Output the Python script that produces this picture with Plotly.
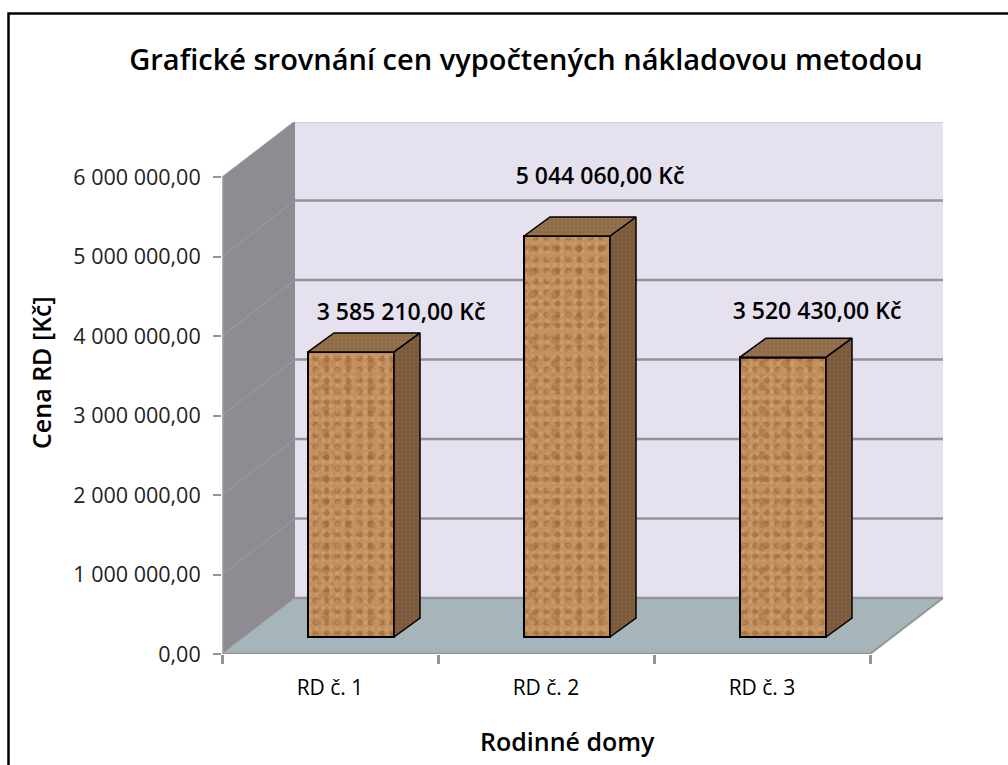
import plotly.graph_objects as go

categories = ["RD č. 1", "RD č. 2", "RD č. 3"]
prices = [3585210, 5044060, 3520430]
price_labels = ["3 585 210,00 Kč", "5 044 060,00 Kč", "3 520 430,00 Kč"]
y_ticks = [0, 1000000, 2000000, 3000000, 4000000, 5000000, 6000000]
y_tick_labels = ["0,00", "1 000 000,00", "2 000 000,00", "3 000 000,00",
                 "4 000 000,00", "5 000 000,00", "6 000 000,00"]

title_text = "Grafické srovnání cen vypočtených nákladovou metodou"
x_title = "Rodinné domy"
y_title = "Cena RD [Kč]"

W, H = 1008, 765
L, R, T, B = 222, 945, 122, 654      # plot box (pixels)
CAT = 216.0                          # px per category
VAL = 79.5 / 1e6                     # px per unit of price
ux = 1 / CAT
uy = 1 / VAL
x_range = [0.5, 0.5 + (R - L) * ux]
y_range = [0, (B - T) * uy]

wall_dx, wall_dy = 73 * ux, 56 * uy   # depth of the chart box
bar_shift, bar_lift = 21 * ux, 17 * uy  # front face placement on the floor
bar_w = 86 * ux
side_dx, side_dy = 26 * ux, 19 * uy   # depth of the bars
label_dx = [50, 33, 34]
label_dy = [38, 58, 44]

x0, x1 = 0.5, 3.5
FONT = "Open Sans"
GRID = "#949494"
shapes = []


def poly(pts):
    return "M " + " L ".join(f"{a},{b}" for a, b in pts) + " Z"


top = y_ticks[-1]
# back wall
shapes.append(dict(type="path", xref="x", yref="y", layer="below", line_width=0, fillcolor="#E6E1EE",
                   path=poly([(x0 + wall_dx, wall_dy), (x1 + wall_dx, wall_dy),
                              (x1 + wall_dx, top + wall_dy), (x0 + wall_dx, top + wall_dy)])))
# side wall
shapes.append(dict(type="path", xref="x", yref="y", layer="below", line_width=0, fillcolor="#8E8C92",
                   path=poly([(x0, 0), (x0 + wall_dx, wall_dy), (x0 + wall_dx, top + wall_dy), (x0, top)])))
# floor
shapes.append(dict(type="path", xref="x", yref="y", layer="below", fillcolor="#A6B5B9",
                   line=dict(color="#A6B5B9", width=0),
                   path=poly([(x0, 0), (x0 + wall_dx, wall_dy), (x1 + wall_dx, wall_dy), (x1, 0)])))
# grid lines on the back wall and on the side wall
for v in y_ticks:
    shapes.append(dict(type="line", xref="x", yref="y", layer="below",
                       x0=x0 + wall_dx, x1=x1 + wall_dx, y0=v + wall_dy, y1=v + wall_dy,
                       line=dict(color=GRID, width=2.5)))
    shapes.append(dict(type="line", xref="x", yref="y", layer="below",
                       x0=x0, x1=x0 + wall_dx, y0=v, y1=v + wall_dy,
                       line=dict(color="#9F9DA3", width=1)))
# floor outer edge and the axis lines
shapes.append(dict(type="line", xref="x", yref="y", layer="below",
                   x0=x1, x1=x1 + wall_dx, y0=0, y1=wall_dy, line=dict(color=GRID, width=2)))
shapes.append(dict(type="line", xref="x", yref="y", layer="below",
                   x0=x0, x1=x1, y0=0, y1=0, line=dict(color=GRID, width=2.5)))
shapes.append(dict(type="line", xref="x", yref="y", layer="below",
                   x0=x0, x1=x0, y0=0, y1=top, line=dict(color="#B0B0B0", width=2.5)))
# chart frame: only its left and top edges fall inside the page
shapes.append(dict(type="rect", xref="paper", yref="paper", layer="above",
                   x0=8.5 / W, x1=(W + 10) / W,
                   y0=-10 / H, y1=1 - 13.5 / H,
                   line=dict(color="#000000", width=2.5), fillcolor="rgba(0,0,0,0)"))

fig = go.Figure()
xs = [i + 1 + bar_shift for i in range(3)]

# front faces: overlaid speckle layers of unrelated sizes give the cork look
fig.add_trace(go.Bar(x=xs, y=prices, base=[bar_lift] * 3, width=bar_w, hoverinfo="skip",
                     marker=dict(color="#C4915C", line=dict(color="#000000", width=2),
                                 pattern=dict(shape=".", size=11, solidity=0.25, fgcolor="#A97644",
                                              bgcolor="#C4915C", fillmode="replace"))))
for size, sol, col in [(7, 0.3, "rgba(226,182,136,0.6)"), (23, 0.1, "rgba(140,85,40,0.65)"),
                       (13, 0.12, "rgba(155,105,65,0.55)"), (5, 0.2, "rgba(175,130,90,0.4)")]:
    fig.add_trace(go.Bar(x=xs, y=prices, base=[bar_lift] * 3, width=bar_w, hoverinfo="skip",
                         marker=dict(color="rgba(0,0,0,0)", line=dict(color="#000000", width=2),
                                     pattern=dict(shape=".", size=size, solidity=sol, fgcolor=col,
                                                  bgcolor="rgba(0,0,0,0)", fillmode="overlay"))))

# side and top faces
for xc, v in zip(xs, prices):
    a, b = xc - bar_w / 2, xc + bar_w / 2
    lo, hi = bar_lift, bar_lift + v
    fig.add_trace(go.Scatter(x=[b, b + side_dx, b + side_dx, b, b],
                             y=[lo, lo + side_dy, hi + side_dy, hi, lo],
                             mode="lines", fill="toself", hoverinfo="skip",
                             line=dict(color="#000000", width=1.5),
                             fillcolor="#7C5B3D",
                             fillpattern=dict(shape=".", size=4, solidity=0.3, fgcolor="#69492E",
                                              bgcolor="#80603F")))
    fig.add_trace(go.Scatter(x=[a, b, b + side_dx, a + side_dx, a],
                             y=[hi, hi, hi + side_dy, hi + side_dy, hi],
                             mode="lines", fill="toself", hoverinfo="skip",
                             line=dict(color="#000000", width=1.5),
                             fillcolor="#8F6C49",
                             fillpattern=dict(shape=".", size=4, solidity=0.3, fgcolor="#7D5C3A",
                                              bgcolor="#94724E")))

# data labels
fig.add_trace(go.Scatter(
    x=[xc + d * ux for xc, d in zip(xs, label_dx)],
    y=[bar_lift + v + d * uy for v, d in zip(prices, label_dy)],
    text=price_labels, mode="text", textposition="middle center", hoverinfo="skip",
    cliponaxis=False,
    textfont=dict(family=FONT, size=23, color="#000000", weight=600)))

annotations = [
    dict(text=y_title, xref="paper", yref="paper", showarrow=False, textangle=-90,
         x=41 / W, y=1 - 373 / H, xanchor="center", yanchor="middle",
         font=dict(family=FONT, size=25, color="#000000", weight=600)),
    dict(text=x_title, xref="paper", yref="paper", showarrow=False,
         x=567 / W, y=1 - 741 / H, xanchor="center", yanchor="middle",
         font=dict(family=FONT, size=25, color="#000000", weight=600)),
]

fig.update_layout(
    width=W, height=H, autosize=False, showlegend=False, barmode="overlay",
    paper_bgcolor="#FFFFFF", plot_bgcolor="#FFFFFF",
    margin=dict(l=0, r=0, t=0, b=0),
    title=dict(text=title_text, x=526 / W, y=1 - 60 / H, xanchor="center", yanchor="middle",
               font=dict(family=FONT, size=29, color="#000000", weight=600)),
    shapes=shapes, annotations=annotations,
    xaxis=dict(domain=[L / W, R / W], range=x_range, showgrid=False, zeroline=False, showline=False,
               automargin=False,
               tickmode="array", tickvals=[1, 2, 3], ticktext=categories,
               ticks="outside", ticklen=15, tickcolor="rgba(0,0,0,0)",
               tickfont=dict(family=FONT, size=21, color="#000000", weight=500),
               minor=dict(tickmode="array", tickvals=[0.5, 1.5, 2.5, 3.5], ticks="outside",
                          ticklen=9, tickwidth=2.5, tickcolor=GRID)),
    yaxis=dict(domain=[1 - B / H, 1 - T / H], range=y_range, showgrid=False, zeroline=False, showline=False,
               automargin=False,
               tickmode="array", tickvals=y_ticks, ticktext=y_tick_labels,
               ticks="outside", ticklen=8, tickwidth=2, tickcolor=GRID, ticklabelstandoff=8,
               tickfont=dict(family=FONT, size=21.5, color="#222222")),
)

fig.write_html("out.html", config=dict(displayModeBar=False),
               post_script="document.body.style.margin='0';document.body.style.overflow='hidden';")
